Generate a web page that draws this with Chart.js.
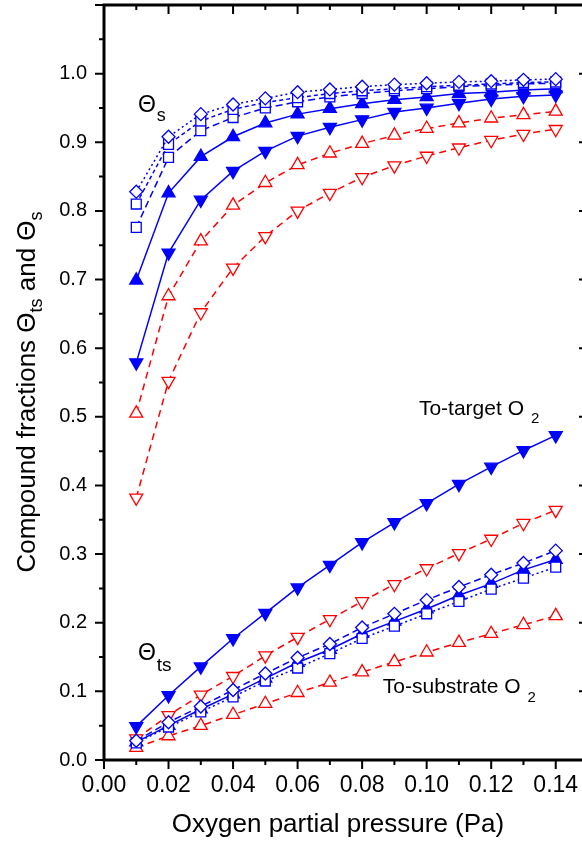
<!DOCTYPE html>
<html>
<head>
<meta charset="utf-8">
<script src="https://cdn.jsdelivr.net/npm/chart.js@4.4.1/dist/chart.umd.min.js"></script>
<style>
html,body{margin:0;padding:0;background:#fff;overflow:hidden;width:582px;height:843px;}
canvas{display:block;}
</style>
</head>
<body>
<canvas id="c" width="592" height="843" style="width:592px;height:843px"></canvas>
<script>
// ---------- data ----------
const pressure = [0.01,0.02,0.03,0.04,0.05,0.06,0.07,0.08,0.09,0.10,0.11,0.12,0.13,0.14];
const xTickLabels = ['0.00','0.02','0.04','0.06','0.08','0.10','0.12','0.14'];
const yTickLabels = ['0.0','0.1','0.2','0.3','0.4','0.5','0.6','0.7','0.8','0.9','1.0'];

// substrate fractions (Theta_s)
const sDiamond    = [0.828,0.908,0.941,0.955,0.964,0.973,0.977,0.981,0.984,0.986,0.988,0.989,0.991,0.992];
const sSquareA    = [0.810,0.897,0.931,0.948,0.958,0.965,0.971,0.975,0.978,0.981,0.983,0.985,0.987,0.988];
const sSquareB    = [0.776,0.878,0.917,0.936,0.950,0.959,0.966,0.971,0.975,0.978,0.981,0.983,0.985,0.986];
const sUpFilled   = [0.699,0.826,0.879,0.908,0.928,0.941,0.949,0.956,0.962,0.966,0.971,0.973,0.976,0.978];
const sDownFilled = [0.579,0.739,0.816,0.858,0.887,0.909,0.922,0.933,0.944,0.950,0.957,0.963,0.967,0.969];
const sUpOpen     = [0.505,0.676,0.756,0.808,0.841,0.867,0.884,0.898,0.910,0.920,0.928,0.935,0.940,0.945];
const sDownOpen   = [0.382,0.552,0.652,0.717,0.763,0.800,0.826,0.849,0.866,0.880,0.892,0.903,0.912,0.919];

// target-side fractions (Theta_ts)
const tDiamond    = [0.028,0.055,0.078,0.102,0.126,0.149,0.169,0.193,0.213,0.233,0.252,0.270,0.287,0.305];
const tSquare     = [0.025,0.048,0.070,0.092,0.115,0.134,0.155,0.177,0.195,0.213,0.231,0.249,0.265,0.281];
const tUpFilled   = [0.026,0.050,0.074,0.096,0.119,0.142,0.161,0.184,0.202,0.220,0.240,0.257,0.277,0.292];
const tDownFilled = [0.049,0.094,0.136,0.177,0.214,0.251,0.284,0.317,0.346,0.374,0.402,0.427,0.451,0.473];
const tUpOpen     = [0.018,0.035,0.050,0.066,0.082,0.098,0.113,0.128,0.143,0.157,0.171,0.184,0.197,0.210];
const tDownOpen   = [0.031,0.065,0.095,0.122,0.152,0.179,0.205,0.231,0.256,0.279,0.301,0.322,0.345,0.364];

// ---------- styles ----------
const BLUE = '#0000ff', RED = '#ff0000';
const FONT = '"Liberation Sans", Arial, Helvetica, sans-serif';
const pts = arr => arr.map((v,i)=>({x:pressure[i], y:v}));

function ds(values, style){
  return Object.assign({
    data: pts(values),
    showLine: true,
    borderWidth: 1.5,
    pointBorderWidth: 1.3,
    pointRadius: 7,
    pointHoverRadius: 7,
    fill: false,
    tension: 0
  }, style);
}
const diamondOpen = {pointStyle:'rectRot', pointRadius:6.5, borderColor:BLUE, pointBorderColor:BLUE, pointBackgroundColor:'#fff'};
const squareOpen  = {pointStyle:'rect', pointRadius:7, borderColor:BLUE, pointBorderColor:BLUE, pointBackgroundColor:'#fff'};
const upFilled    = {pointStyle:'triangle', pointRadius:7.5, borderColor:BLUE, pointBorderColor:BLUE, pointBackgroundColor:BLUE};
const downFilled  = {pointStyle:'triangle', pointRotation:180, pointRadius:7.5, borderColor:BLUE, pointBorderColor:BLUE, pointBackgroundColor:BLUE};
const upOpen      = {pointStyle:'triangle', pointRadius:7.5, borderColor:RED, pointBorderColor:RED, pointBackgroundColor:'#fff', borderDash:[7,5]};
const downOpen    = {pointStyle:'triangle', pointRotation:180, pointRadius:7.5, borderColor:RED, pointBorderColor:RED, pointBackgroundColor:'#fff', borderDash:[7,5]};

const datasets = [
  ds(sDiamond,    Object.assign({}, diamondOpen, {borderDash:[2,3]})),
  ds(sSquareA,    Object.assign({}, squareOpen,  {borderDash:[4,3]})),
  ds(sSquareB,    Object.assign({}, squareOpen,  {borderDash:[7,4]})),
  ds(sUpFilled,   upFilled),
  ds(sDownFilled, downFilled),
  ds(sUpOpen,     upOpen),
  ds(sDownOpen,   downOpen),
  ds(tDiamond,    Object.assign({}, diamondOpen, {borderDash:[7,4]})),
  ds(tSquare,     Object.assign({}, squareOpen,  {borderDash:[2,3]})),
  ds(tUpFilled,   upFilled),
  ds(tDownFilled, downFilled),
  ds(tUpOpen,     upOpen),
  ds(tDownOpen,   downOpen)
];

// draws text pieces with subscripts starting at (x, y) baseline in current transform
function drawPieces(ctx, pieces, x, y){
  let cx = x;
  for (const p of pieces){
    ctx.font = p.size + 'px ' + FONT;
    ctx.fillText(p.t, cx + (p.dx||0), y + (p.dy||0));
    cx += ctx.measureText(p.t).width + (p.dx||0);
  }
}
function piecesWidth(ctx, pieces){
  let w = 0;
  for (const p of pieces){ ctx.font = p.size + 'px ' + FONT; w += ctx.measureText(p.t).width + (p.dx||0); }
  return w;
}

const framePlugin = {
  id: 'frame',
  afterDraw(chart){
    const ctx = chart.ctx;
    const {left, right, top, bottom} = chart.chartArea;
    const xs = chart.scales.x, ys = chart.scales.y;
    ctx.save();
    ctx.strokeStyle = '#000';
    ctx.lineWidth = 2;
    ctx.beginPath();
    for (let k = 0; k <= 15; k++){
      const px = xs.getPixelForValue(k/100);
      const L = (k % 2 === 0) ? 9 : 5;
      ctx.moveTo(px, bottom); ctx.lineTo(px, bottom + L);
      ctx.moveTo(px, top);    ctx.lineTo(px, top + L);
    }
    for (let k = 0; k <= 22; k++){
      const py = ys.getPixelForValue(k*0.05);
      const L = (k % 2 === 0) ? 9 : 5;
      ctx.moveTo(left - L, py); ctx.lineTo(left, py);
      ctx.moveTo(right - L, py); ctx.lineTo(right, py);
    }
    ctx.stroke();
    ctx.lineWidth = 3;
    ctx.strokeRect(left, top, right - left, bottom - top);

    // annotations
    ctx.fillStyle = '#000';
    ctx.textBaseline = 'alphabetic';
    ctx.textAlign = 'left';
    const X = v => xs.getPixelForValue(v), Y = v => ys.getPixelForValue(v);
    drawPieces(ctx, [{t:'\u0398', size:23}, {t:'s', size:18, dx:1, dy:9}], X(0.0105), Y(0.944));
    drawPieces(ctx, [{t:'\u0398', size:23}, {t:'ts', size:19, dx:1, dy:11}], X(0.0105), Y(0.146));
    drawPieces(ctx, [{t:'To-target O', size:21}, {t:'2', size:15, dx:7, dy:8}], X(0.0976), Y(0.503));
    drawPieces(ctx, [{t:'To-substrate O', size:21}, {t:'2', size:15, dx:7, dy:9}], X(0.0864), Y(0.098));

    // axis titles
    ctx.font = '26px ' + FONT;
    ctx.textAlign = 'center';
    ctx.fillText('Oxygen partial pressure (Pa)', 338, 832);

    ctx.textAlign = 'left';
    const yt = [{t:'Compound fractions \u0398', size:26}, {t:'ts', size:18, dy:7},
                {t:' and \u0398', size:26}, {t:'s', size:18, dy:7}];
    const w = piecesWidth(ctx, yt);
    ctx.translate(35, 392);
    ctx.rotate(-Math.PI/2);
    drawPieces(ctx, yt, -w/2, 0);
    ctx.restore();
  }
};

new Chart(document.getElementById('c'), {
  type: 'scatter',
  data: { datasets },
  options: {
    responsive: false,
    animation: false,
    devicePixelRatio: 1,
    events: [],
    layout: { autoPadding: false, padding: { top: 5, right: 4, left: 0, bottom: 0 } },
    plugins: { legend: {display:false}, tooltip: {enabled:false} },
    scales: {
      x: {
        type: 'linear', min: 0, max: 0.15,
        grid: { display: false, drawTicks: false },
        border: { display: false },
        ticks: {
          autoSkip: false, maxRotation: 0, minRotation: 0, padding: 12,
          color: '#000', font: { family: FONT, size: 23 },
          callback: (v, i) => xTickLabels[i]
        },
        afterBuildTicks: s => { s.ticks = xTickLabels.map(l => ({value: parseFloat(l)})); },
        afterFit: s => { s.height = 83; s.paddingLeft = 0; s.paddingRight = 0; }
      },
      y: {
        type: 'linear', min: 0, max: 1.1,
        grid: { display: false, drawTicks: false },
        border: { display: false },
        ticks: {
          autoSkip: false, padding: 17,
          color: '#000', font: { family: FONT, size: 20 },
          callback: (v, i) => yTickLabels[i]
        },
        afterBuildTicks: s => { s.ticks = yTickLabels.map(l => ({value: parseFloat(l)})); },
        afterFit: s => { s.width = 104; s.paddingTop = 0; s.paddingBottom = 0; }
      }
    }
  },
  plugins: [framePlugin]
});
</script>
</body>
</html>
